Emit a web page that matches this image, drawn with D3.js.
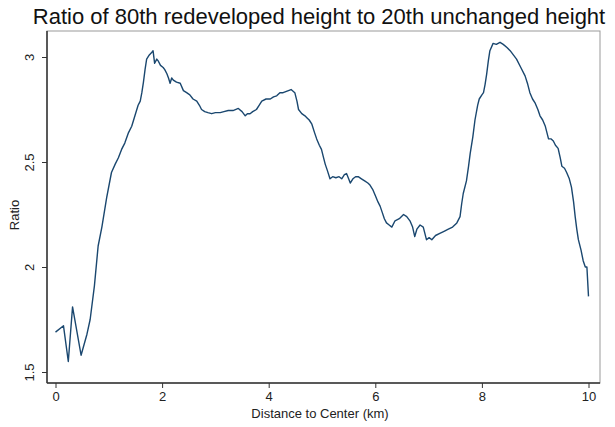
<!DOCTYPE html>
<html>
<head>
<meta charset="utf-8">
<script src="https://cdn.jsdelivr.net/npm/d3@7"></script>
<style>
  body { margin: 0; background: #fff; }
  text { font-family: "Liberation Sans", Arial, sans-serif; }
</style>
</head>
<body>
<svg id="chart" width="615" height="427"></svg>
<script>
// distance to center (km) and ratio
const distance = [
  0.00, 0.15, 0.24, 0.32, 0.48, 0.59, 0.65, 0.73, 0.80, 0.87, 0.96, 1.05, 1.12, 1.18, 1.24, 1.30,
  1.37, 1.43, 1.49, 1.55, 1.59, 1.62, 1.65, 1.68, 1.71, 1.76, 1.80, 1.83, 1.86, 1.90, 1.93, 1.97,
  2.02, 2.05, 2.09, 2.12, 2.15, 2.18, 2.21, 2.27, 2.34, 2.40, 2.46, 2.52, 2.58, 2.65, 2.70, 2.74,
  2.80, 2.86, 2.93, 3.00, 3.09, 3.16, 3.24, 3.33, 3.43, 3.50, 3.56, 3.60, 3.65, 3.70, 3.77, 3.82,
  3.87, 3.95, 4.03, 4.09, 4.15, 4.21, 4.27, 4.32, 4.37, 4.42, 4.49, 4.53, 4.56, 4.62, 4.68, 4.72,
  4.76, 4.81, 4.86, 4.90, 4.95, 4.99, 5.03, 5.06, 5.10, 5.15, 5.20, 5.26, 5.32, 5.37, 5.42, 5.46,
  5.50, 5.53, 5.58, 5.63, 5.68, 5.74, 5.80, 5.86, 5.90, 5.95, 6.00, 6.05, 6.09, 6.13, 6.17, 6.21,
  6.26, 6.31, 6.37, 6.45, 6.53, 6.59, 6.65, 6.70, 6.74, 6.78, 6.84, 6.90, 6.96, 7.01, 7.06, 7.13,
  7.21, 7.29, 7.37, 7.45, 7.53, 7.59, 7.62, 7.65, 7.71, 7.75, 7.78, 7.83, 7.87, 7.92, 7.95, 8.00,
  8.03, 8.06, 8.09, 8.12, 8.15, 8.21, 8.27, 8.34, 8.40, 8.47, 8.53, 8.59, 8.65, 8.73, 8.81, 8.86,
  8.90, 8.95, 9.00, 9.05, 9.09, 9.14, 9.19, 9.22, 9.25, 9.30, 9.34, 9.38, 9.43, 9.47, 9.50, 9.55,
  9.59, 9.64, 9.68, 9.72, 9.75, 9.78, 9.81, 9.86, 9.90, 9.94, 9.97, 10.00
];
const ratio = [
  1.69, 1.72, 1.55, 1.81, 1.58, 1.68, 1.75, 1.91, 2.10, 2.19, 2.33, 2.45, 2.49, 2.52, 2.56, 2.59,
  2.64, 2.67, 2.72, 2.77, 2.79, 2.83, 2.88, 2.94, 2.99, 3.01, 3.02, 3.03, 2.97, 2.99, 2.98, 2.96,
  2.95, 2.94, 2.92, 2.90, 2.875, 2.90, 2.89, 2.88, 2.875, 2.84, 2.83, 2.82, 2.80, 2.79, 2.77, 2.75,
  2.74, 2.735, 2.73, 2.735, 2.735, 2.74, 2.745, 2.745, 2.755, 2.74, 2.72, 2.73, 2.73, 2.74, 2.75, 2.77,
  2.79, 2.80, 2.80, 2.81, 2.815, 2.83, 2.83, 2.835, 2.84, 2.845, 2.83, 2.79, 2.75, 2.73, 2.72, 2.71,
  2.70, 2.68, 2.64, 2.61, 2.58, 2.56, 2.52, 2.49, 2.46, 2.42, 2.43, 2.425, 2.43, 2.42, 2.44, 2.445,
  2.42, 2.40, 2.42, 2.43, 2.43, 2.42, 2.41, 2.40, 2.39, 2.37, 2.34, 2.31, 2.29, 2.26, 2.23, 2.21,
  2.20, 2.19, 2.22, 2.23, 2.25, 2.24, 2.22, 2.19, 2.145, 2.18, 2.20, 2.19, 2.13, 2.14, 2.13, 2.15,
  2.16, 2.17, 2.18, 2.19, 2.21, 2.24, 2.30, 2.35, 2.41, 2.48, 2.54, 2.62, 2.70, 2.77, 2.80, 2.82,
  2.83, 2.87, 2.92, 2.98, 3.03, 3.065, 3.06, 3.07, 3.06, 3.045, 3.03, 3.01, 2.99, 2.95, 2.91, 2.87,
  2.83, 2.80, 2.78, 2.75, 2.72, 2.70, 2.67, 2.64, 2.61, 2.61, 2.60, 2.58, 2.565, 2.52, 2.48, 2.47,
  2.45, 2.42, 2.38, 2.31, 2.24, 2.18, 2.13, 2.08, 2.03, 2.00, 2.00, 1.86
];
const xTicks = [0, 2, 4, 6, 8, 10];
const yTicks = [1.5, 2, 2.5, 3];

const titleText = "Ratio of 80th redeveloped height to 20th unchanged height";
const xTitle = "Distance to Center (km)";
const yTitle = "Ratio";

function drawChart() {
    const svg = d3.select("#chart");
    const frame = {left: 47, right: 600, top: 31, bottom: 383};

    const x = d3.scaleLinear().domain([0, 10]).range([55.5, 588.5]);
    const y = d3.scaleLinear().domain([1.5, 3]).range([372, 57]);

    svg.append("text")
        .attr("x", 319)
        .attr("y", 24)
        .attr("text-anchor", "middle")
        .attr("font-size", 22)
        .attr("fill", "#111")
        .text(titleText);

    // plot region box
    svg.append("rect")
        .attr("x", frame.left)
        .attr("y", frame.top)
        .attr("width", frame.right - frame.left)
        .attr("height", frame.bottom - frame.top)
        .attr("fill", "none")
        .attr("stroke", "#999")
        .attr("stroke-width", 1);

    const xAxis = svg.append("g")
        .attr("transform", "translate(0," + frame.bottom + ")")
        .call(d3.axisBottom(x).tickValues(xTicks).tickSize(5).tickPadding(4).tickSizeOuter(0));
    xAxis.select(".domain").attr("d", "M" + frame.left + ",0H" + frame.right).attr("stroke", "#333").attr("stroke-width", 1.5);
    xAxis.selectAll(".tick line").attr("stroke", "#333");
    xAxis.selectAll(".tick text")
        .attr("font-size", 13)
        .attr("fill", "#222")
        .style("font-family", "'Liberation Sans', Arial, sans-serif");

    const yAxis = svg.append("g")
        .attr("transform", "translate(" + frame.left + ",0)")
        .call(d3.axisLeft(y).tickValues(yTicks).tickSize(5).tickSizeOuter(0).tickFormat(d3.format("")));
    yAxis.select(".domain").attr("d", "M0," + frame.top + "V" + frame.bottom).attr("stroke", "#333").attr("stroke-width", 1.5);
    yAxis.selectAll(".tick line").attr("stroke", "#333");
    yAxis.selectAll(".tick text")
        .attr("font-size", 13)
        .attr("fill", "#222")
        .attr("x", null)
        .attr("dy", null)
        .attr("text-anchor", "middle")
        .attr("transform", "translate(-13,0) rotate(-90)")
        .style("font-family", "'Liberation Sans', Arial, sans-serif");

    svg.append("text")
        .attr("x", 320)
        .attr("y", 418)
        .attr("text-anchor", "middle")
        .attr("font-size", 13)
        .attr("fill", "#222")
        .text(xTitle);

    svg.append("text")
        .attr("transform", "translate(19,215) rotate(-90)")
        .attr("text-anchor", "middle")
        .attr("font-size", 13)
        .attr("fill", "#222")
        .text(yTitle);

    const data = distance.map(function (d, i) {
        return {dist: d, ratio: ratio[i]};
    });

    const line = d3.line()
        .x(function (d) { return x(d.dist); })
        .y(function (d) { return y(d.ratio); });

    svg.append("path")
        .datum(data)
        .attr("d", line)
        .attr("fill", "none")
        .attr("stroke", "#1a476f")
        .attr("stroke-width", 1.4)
        .attr("stroke-linejoin", "round");
}

drawChart();
</script>
</body>
</html>
